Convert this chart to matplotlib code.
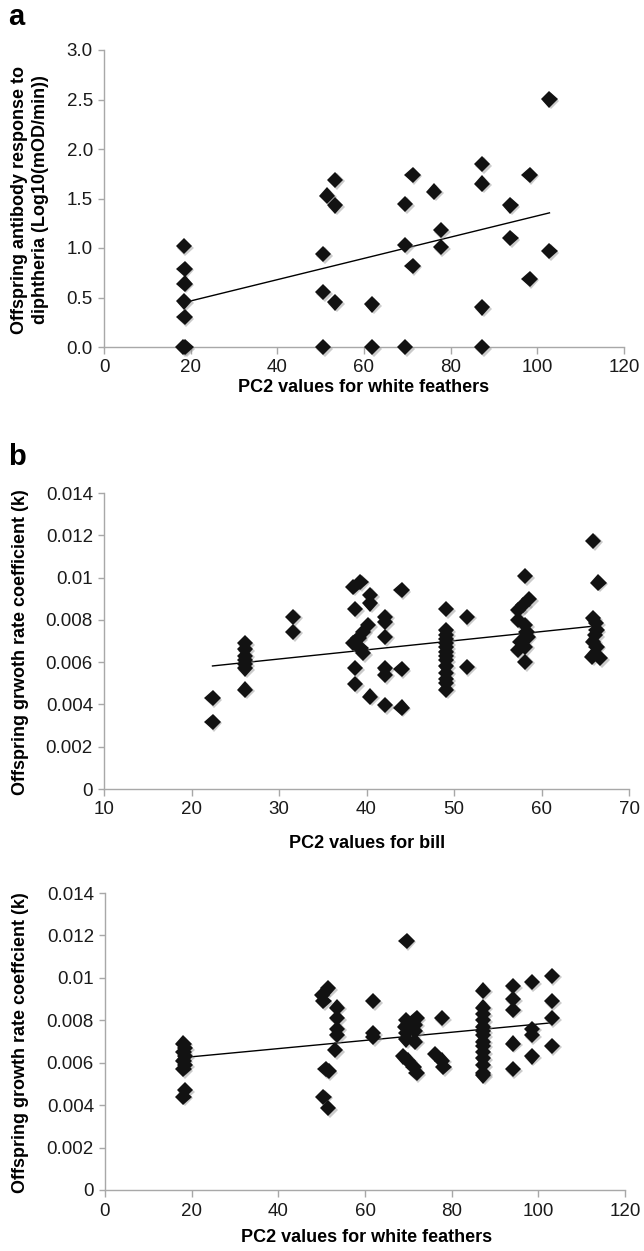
import matplotlib
matplotlib.use("Agg")
import matplotlib.pyplot as plt
import matplotlib.patheffects as pe

plt.rcParams['font.family'] = ['Liberation Sans', 'DejaVu Sans']

# panel a: antibody response vs PC2 white feathers
a_x = [18.4, 18.6, 18.6, 18.5, 18.6, 18.3, 18.8,
       50.5, 50.5, 50.5, 51.5, 53.3, 53.3, 53.3,
       61.9, 61.9, 69.5, 69.5, 69.5, 71.2, 71.2,
       76.2, 77.7, 77.7, 87.2, 87.2, 87.2, 87.2,
       93.8, 93.8, 98.2, 98.2, 102.8, 102.8]
a_y = [1.02, 0.79, 0.64, 0.46, 0.30, 0.0, 0.0,
       0.94, 0.555, 0.0, 1.53, 1.43, 1.69, 0.45,
       0.43, 0.0, 1.445, 1.03, 0.0, 1.74, 0.82,
       1.57, 1.18, 1.01, 1.85, 1.65, 0.40, 0.0,
       1.43, 1.10, 1.74, 0.69, 2.50, 0.97]
a_trend_x = [19.5, 102.8]
a_trend_y = [0.46, 1.355]

# panel b: growth rate vs PC2 bill
b_x = [22.4, 22.4,
       26.1, 26.1, 26.1, 26.1, 26.1, 26.1, 26.1,
       31.6, 31.6,
       39.3, 38.5, 40.4, 40.4, 38.7, 40.2, 39.6, 39.1, 38.5, 39.3, 39.6,
       38.7, 38.7, 40.4,
       42.1, 42.1, 42.1, 42.1, 42.1, 42.1,
       44.0, 44.0, 44.0,
       49.1, 49.1, 49.1, 49.1, 49.1, 49.1, 49.1, 49.1, 49.1, 49.1, 49.1, 49.1, 49.1, 49.1,
       51.45, 51.45,
       58.1, 58.6, 57.9, 57.3, 57.3, 58.1, 58.3, 58.4, 57.6, 58.1, 57.3, 58.1,
       65.9, 66.5, 65.9, 66.2, 66.3, 66.1, 65.9, 66.3, 65.8, 66.7]
b_y = [0.00429, 0.00318,
       0.0069, 0.0066, 0.0063, 0.0061, 0.0059, 0.0057, 0.0047,
       0.00815, 0.00744,
       0.0098, 0.00957, 0.00918, 0.00878, 0.0085, 0.00776, 0.00744, 0.00713, 0.00689, 0.00665, 0.00642,
       0.00571, 0.00497, 0.00437,
       0.00815, 0.0079, 0.0072, 0.0057, 0.0054, 0.00397,
       0.0094, 0.00566, 0.00385,
       0.0085, 0.0075, 0.0073, 0.0071, 0.0069, 0.0067, 0.0065, 0.0063, 0.0061, 0.0058, 0.0055, 0.0052, 0.0050, 0.0047,
       0.00815, 0.00578,
       0.01007, 0.00897, 0.0087, 0.00847, 0.0080, 0.00776, 0.00744, 0.0072, 0.00697, 0.00673, 0.00657, 0.00602,
       0.01174, 0.00976, 0.00807, 0.00784, 0.00752, 0.00728, 0.00697, 0.00673, 0.00626, 0.00618]
b_trend_x = [22.4, 65.9]
b_trend_y = [0.00582, 0.0077]

# panel c: growth rate vs PC2 white feathers
c_x = [18.1, 18.4, 18.1, 18.4, 18.1, 18.4, 18.1, 18.4, 18.1,
       51.5, 50.0, 50.4, 53.5, 53.5, 53.5, 53.5, 53.1, 50.9, 51.6, 50.4, 51.5,
       61.9, 61.9, 61.9,
       69.6, 69.5, 71.9, 69.2, 71.5, 69.5, 71.5, 69.5, 71.5, 68.8, 70.0, 71.2, 71.9,
       77.7, 76.2, 77.7, 78.1,
       87.3, 87.3, 87.3, 87.3, 87.3, 87.3, 87.3, 87.3, 87.3, 87.3, 87.3, 87.3, 87.3, 87.3,
       94.1, 94.1, 94.1, 94.1, 94.1,
       98.5, 98.5, 98.5, 98.5,
       103.1, 103.1, 103.1, 103.1]
c_y = [0.0069, 0.0067, 0.0065, 0.0063, 0.0061, 0.0059, 0.0057, 0.0047, 0.0044,
       0.0095, 0.0092, 0.0089, 0.0086, 0.0081, 0.0076, 0.0073, 0.0066, 0.0057, 0.0056, 0.0044, 0.00385,
       0.0089, 0.0074, 0.0072,
       0.01175, 0.0080, 0.0081, 0.0077, 0.0078, 0.0074, 0.0075, 0.0071, 0.0070, 0.0063, 0.0061, 0.0058, 0.0055,
       0.0081, 0.0064, 0.0061, 0.0058,
       0.0094, 0.0086, 0.0083, 0.0080, 0.0077, 0.0075, 0.0073, 0.0070, 0.0068, 0.0065, 0.0062, 0.0059, 0.0055, 0.0054,
       0.0096, 0.0090, 0.0085, 0.0069, 0.0057,
       0.0098, 0.0076, 0.0073, 0.0063,
       0.0101, 0.0089, 0.0081, 0.0068]
c_trend_x = [19.5, 103.0]
c_trend_y = [0.00627, 0.00788]

ticks_a_y = [0, 0.5, 1.0, 1.5, 2.0, 2.5, 3.0]
labels_a_y = ['0.0', '0.5', '1.0', '1.5', '2.0', '2.5', '3.0']
ticks_k = [0, 0.002, 0.004, 0.006, 0.008, 0.01, 0.012, 0.014]
labels_k = ['0', '0.002', '0.004', '0.006', '0.008', '0.01', '0.012', '0.014']
ticks_wf = [0, 20, 40, 60, 80, 100, 120]
ticks_bill = [10, 20, 30, 40, 50, 60, 70]

W, H = 644, 1251
fig = plt.figure(figsize=(W / 100, H / 100), dpi=100)


def px_axes(l, t, r, b):
    return fig.add_axes([l / W, 1 - b / H, (r - l) / W, (b - t) / H])


shadow = [pe.SimplePatchShadow(offset=(1.2, -1.2), shadow_rgbFace='0.55', alpha=0.45), pe.Normal()]


def style(ax, xt, yt, ylabels, xlim, ylim):
    for s in ['top', 'right']:
        ax.spines[s].set_visible(False)
    for s in ['left', 'bottom']:
        ax.spines[s].set_color('#a8a8a8')
        ax.spines[s].set_linewidth(1.0)
    ax.set_xlim(*xlim)
    ax.set_ylim(*ylim)
    ax.set_xticks(xt)
    ax.set_xticklabels([str(v) for v in xt])
    ax.set_yticks(yt)
    ax.set_yticklabels(ylabels)
    ax.tick_params(axis='both', direction='out', color='#a8a8a8', width=1.0,
                   labelsize=13.5, labelcolor='#1a1a1a')
    ax.tick_params(axis='x', length=5, pad=4)
    ax.tick_params(axis='y', length=4, pad=4)


def draw(ax, xs, ys, tx, ty):
    ax.plot(tx, ty, color='black', lw=1.0, zorder=2)
    ax.plot(xs, ys, linestyle='none', marker='D', markersize=8.3, color='#121212',
            markeredgewidth=0, zorder=3, clip_on=False, path_effects=shadow)


# panel a
ax1 = px_axes(104, 50, 624, 347)
style(ax1, ticks_wf, ticks_a_y, labels_a_y, (0, 120), (0, 3.0))
draw(ax1, a_x, a_y, a_trend_x, a_trend_y)
fig.text(30 / W, 1 - 200 / H, 'Offspring antibody response to\ndiphtheria (Log10(mOD/min))',
         rotation=90, ha='center', va='center', fontsize=13, fontweight='bold', linespacing=1.25)
fig.text(364 / W, 1 - 388 / H, 'PC2 values for white feathers', ha='center', va='center',
         fontsize=13, fontweight='bold')
fig.text(8 / W, 1 - 25 / H, 'a', ha='left', va='baseline', fontsize=21, fontweight='bold')

# panel b
ax2 = px_axes(104, 493, 629, 789)
style(ax2, ticks_bill, ticks_k, labels_k, (10, 70), (0, 0.014))
draw(ax2, b_x, b_y, b_trend_x, b_trend_y)
fig.text(21 / W, 1 - 642 / H, 'Offspring grwoth rate coefficient (k)', rotation=90,
         ha='center', va='center', fontsize=13, fontweight='bold')
fig.text(367 / W, 1 - 843 / H, 'PC2 values for bill', ha='center', va='center',
         fontsize=13, fontweight='bold')
fig.text(8 / W, 1 - 465 / H, 'b', ha='left', va='baseline', fontsize=21, fontweight='bold')

# panel c
ax3 = px_axes(105, 893, 625, 1190)
style(ax3, ticks_wf, ticks_k, labels_k, (0, 120), (0, 0.014))
draw(ax3, c_x, c_y, c_trend_x, c_trend_y)
fig.text(21 / W, 1 - 1043 / H, 'Offspring growth rate coeffcient (k)', rotation=90,
         ha='center', va='center', fontsize=13, fontweight='bold')
fig.text(367 / W, 1 - 1238 / H, 'PC2 values for white feathers', ha='center', va='center',
         fontsize=13, fontweight='bold')

fig.savefig('out.png', dpi=100)
